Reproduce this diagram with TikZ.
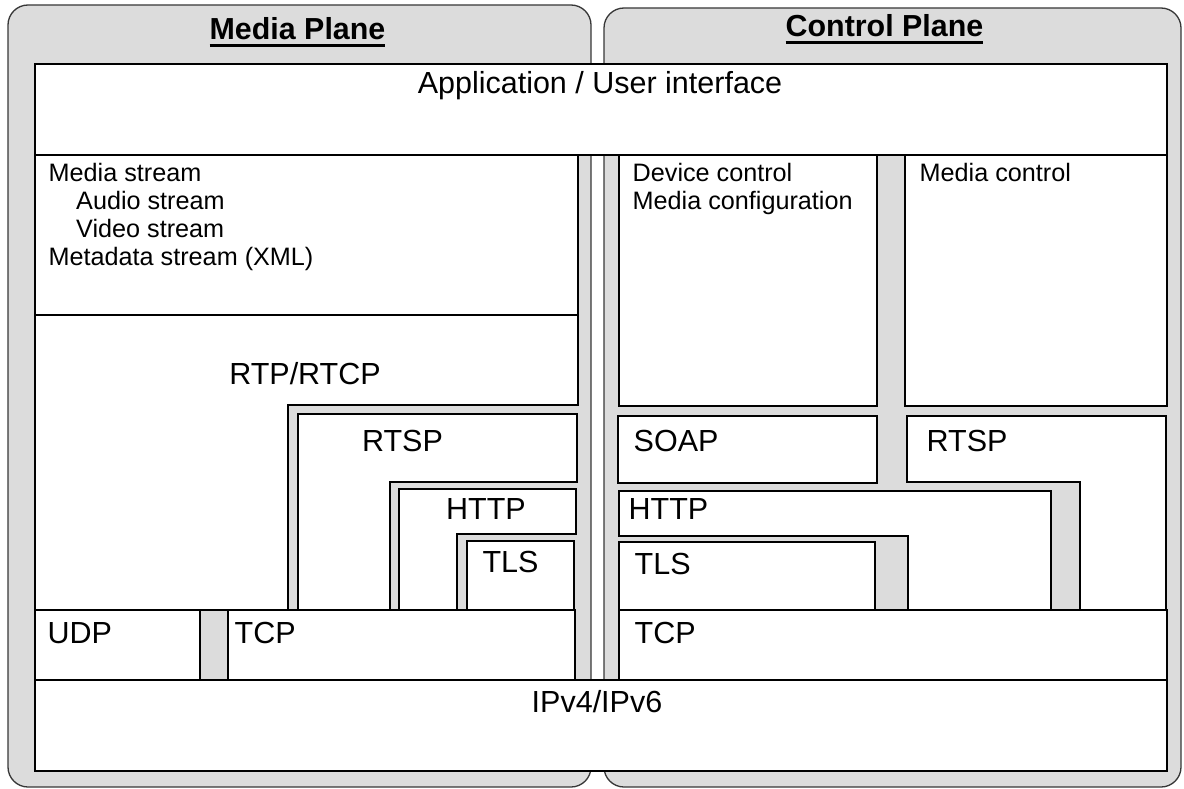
\documentclass[tikz,border=0pt]{standalone}
\usepackage{fontspec}
\setmainfont{Liberation Sans}
\usepackage{tikz}
\usepackage{xcolor}
\definecolor{planegray}{RGB}{220, 220, 220}
\definecolor{planeedge}{RGB}{55, 55, 55}
\newcommand{\titleline}[1]{\setbox0\hbox{#1}\rlap{\usebox0}\rule[-7.5pt]{\wd0}{3pt}}

\begin{document}
\begin{tikzpicture}[x=1pt, y=-1pt,
        plane/.style={draw=planeedge, line width=1.3pt, fill=planegray, rounded corners=20pt},
        layer/.style={draw=black, line width=1.6pt, fill=white},
        title/.style={font=\fontsize{30.4}{35}\selectfont\bfseries, inner sep=0pt, anchor=base},
        biglabel/.style={font=\fontsize{30.5}{36}\selectfont, inner sep=0pt, anchor=base},
        leftlabel/.style={font=\fontsize{30.5}{36}\selectfont, inner sep=0pt, anchor=base west},
        smalllabel/.style={font=\fontsize{25.2}{30}\selectfont, inner sep=0pt, anchor=base west}]
            \useasboundingbox (0,0) rectangle (1184,789);

            % Media plane and control plane
            \draw[plane] (8,5) rectangle (591,787);
            \draw[plane] (604,8) rectangle (1181,787);
            \node[title] (mediatitle) at (297.5,39.7) {\titleline{Media Plane}};
            \node[title] (controltitle) at (884.5,37) {\titleline{Control Plane}};

            % Application layer
            \draw[layer] (35,64) rectangle (1167,155);
            \node[biglabel] (app) at (600,94) {Application / User interface};

            % Media plane stack
            \draw[layer] (35,155) rectangle (578,315);
            \node[smalllabel] (mstream) at (48.5,181.5) {Media stream};
            \node[smalllabel] (astream) at (76,209.5) {Audio stream};
            \node[smalllabel] (vstream) at (76,237.5) {Video stream};
            \node[smalllabel] (xstream) at (48.5,265.5) {Metadata stream (XML)};

            \draw[layer] (35,315) -- (578,315) -- (578,405) -- (288,405) -- (288,610) -- (35,610) -- cycle;
            \node[biglabel] (rtp) at (305,384) {RTP/RTCP};

            \draw[layer] (298,414) -- (577,414) -- (577,482) -- (390,482) -- (390,610) -- (298,610) -- cycle;
            \node[biglabel] (mrtsp) at (402.5,451.5) {RTSP};

            \draw[layer] (399,489) -- (576,489) -- (576,534) -- (457,534) -- (457,610) -- (399,610) -- cycle;
            \node[biglabel] (mhttp) at (486,519) {HTTP};

            \draw[layer] (467,541) rectangle (574,610);
            \node[biglabel] (mtls) at (510.5,572.5) {TLS};

            \draw[layer] (35,610) rectangle (200,680);
            \node[leftlabel] (udp) at (47.5,643.5) {UDP};
            \draw[layer] (228,610) rectangle (575,680);
            \node[leftlabel] (mtcp) at (234.5,643.5) {TCP};

            % Control plane stack
            \draw[layer] (619,155) rectangle (877,406);
            \node[smalllabel] (devctrl) at (632.5,181.5) {Device control};
            \node[smalllabel] (mediacfg) at (632.5,209.5) {Media configuration};
            \draw[layer] (905,155) rectangle (1167,406);
            \node[smalllabel] (mediactrl) at (919.5,181.5) {Media control};

            \draw[layer] (618,416) rectangle (877,483);
            \node[leftlabel] (soap) at (633.5,451) {SOAP};
            \draw[layer] (907,416) -- (1166,416) -- (1166,610) -- (1080,610) -- (1080,482) -- (907,482) -- cycle;
            \node[leftlabel] (crtsp) at (926.5,451.5) {RTSP};

            \draw[layer] (619,491) -- (1051,491) -- (1051,610) -- (908,610) -- (908,536) -- (619,536) -- cycle;
            \node[leftlabel] (chttp) at (628.5,519) {HTTP};
            \draw[layer] (619,542) rectangle (875,610);
            \node[leftlabel] (ctls) at (634.5,574) {TLS};

            \draw[layer] (619,610) rectangle (1167,680);
            \node[leftlabel] (ctcp) at (634.5,643.5) {TCP};

            % Network layer
            \draw[layer] (35,680) rectangle (1167,771);
            \node[biglabel] (ip) at (597,712.5) {IPv4/IPv6};
        \end{tikzpicture}
\end{document}
